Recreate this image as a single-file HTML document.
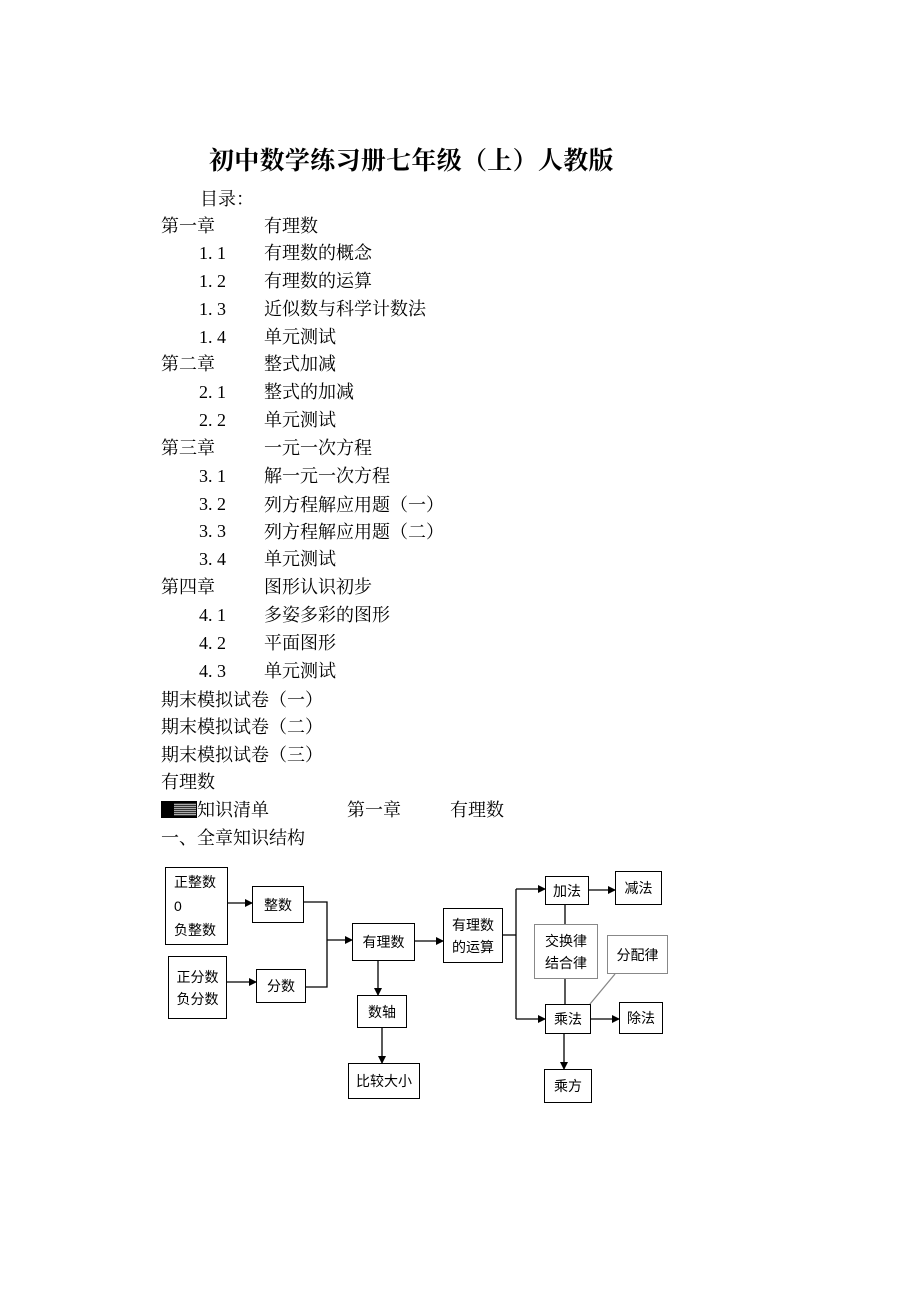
<!DOCTYPE html>
<html><head><meta charset="utf-8"><style>
body{margin:0;background:#fff;}
#p{position:relative;width:920px;height:1300px;overflow:hidden;font-family:"Liberation Serif","Noto Serif CJK SC",serif;color:#000;}
.t{position:absolute;font-size:18px;line-height:18px;white-space:nowrap;}
.c{font-family:"Noto Serif CJK SC",serif;}
.b{position:absolute;border:1.5px solid #000;box-sizing:border-box;font-family:"Liberation Sans","Noto Sans CJK SC",sans-serif;font-size:14px;display:flex;align-items:center;justify-content:center;text-align:center;line-height:22px;}
.g{border-color:#888;}
</style></head><body><div id="p">
<div class="t c" style="left:209px;top:145px;font-size:25px;line-height:28px;font-weight:bold;letter-spacing:0.3px;">初中数学练习册七年级（上）人教版</div>
<div class="t" style="left:200px;top:190px">目录：</div>
<div class="t" style="left:161px;top:217px">第一章</div><div class="t" style="left:264px;top:217px">有理数</div>
<div class="t" style="left:199px;top:244px">1. 1</div><div class="t" style="left:264px;top:244px">有理数的概念</div>
<div class="t" style="left:199px;top:272px">1. 2</div><div class="t" style="left:264px;top:272px">有理数的运算</div>
<div class="t" style="left:199px;top:300px">1. 3</div><div class="t" style="left:264px;top:300px">近似数与科学计数法</div>
<div class="t" style="left:199px;top:328px">1. 4</div><div class="t" style="left:264px;top:328px">单元测试</div>
<div class="t" style="left:161px;top:355px">第二章</div><div class="t" style="left:264px;top:355px">整式加减</div>
<div class="t" style="left:199px;top:383px">2. 1</div><div class="t" style="left:264px;top:383px">整式的加减</div>
<div class="t" style="left:199px;top:411px">2. 2</div><div class="t" style="left:264px;top:411px">单元测试</div>
<div class="t" style="left:161px;top:439px">第三章</div><div class="t" style="left:264px;top:439px">一元一次方程</div>
<div class="t" style="left:199px;top:467px">3. 1</div><div class="t" style="left:264px;top:467px">解一元一次方程</div>
<div class="t" style="left:199px;top:495px">3. 2</div><div class="t c" style="left:264px;top:495px">列方程解应用题（一）</div>
<div class="t" style="left:199px;top:522px">3. 3</div><div class="t c" style="left:264px;top:522px">列方程解应用题（二）</div>
<div class="t" style="left:199px;top:550px">3. 4</div><div class="t" style="left:264px;top:550px">单元测试</div>
<div class="t" style="left:161px;top:578px">第四章</div><div class="t" style="left:264px;top:578px">图形认识初步</div>
<div class="t" style="left:199px;top:606px">4. 1</div><div class="t" style="left:264px;top:606px">多姿多彩的图形</div>
<div class="t" style="left:199px;top:634px">4. 2</div><div class="t" style="left:264px;top:634px">平面图形</div>
<div class="t" style="left:199px;top:662px">4. 3</div><div class="t" style="left:264px;top:662px">单元测试</div>
<div class="t c" style="left:161px;top:690px">期末模拟试卷（一）</div>
<div class="t c" style="left:161px;top:717px">期末模拟试卷（二）</div>
<div class="t c" style="left:161px;top:745px">期末模拟试卷（三）</div>
<div class="t" style="left:161px;top:773px">有理数</div>
<div style="position:absolute;left:161px;top:801px;width:36px;height:17px;background:#000;"></div>
<div style="position:absolute;left:174px;top:803px;width:22px;height:13px;background:repeating-linear-gradient(#333 0 1px,#aaa 1px 2px);"></div>
<div class="t" style="left:197px;top:801px">知识清单</div>
<div class="t" style="left:347px;top:801px">第一章</div>
<div class="t" style="left:450px;top:801px">有理数</div>
<div class="t" style="left:161px;top:829px">一、全章知识结构</div>

<div class="b" style="left:165px;top:867px;width:63px;height:78px;justify-content:flex-start;padding-left:8px;text-align:left;line-height:24px;">正整数<br>0<br>负整数</div>
<div class="b" style="left:252px;top:886px;width:52px;height:37px;">整数</div>
<div class="b" style="left:168px;top:956px;width:59px;height:63px;">正分数<br>负分数</div>
<div class="b" style="left:256px;top:969px;width:50px;height:34px;">分数</div>
<div class="b" style="left:352px;top:923px;width:63px;height:38px;">有理数</div>
<div class="b" style="left:443px;top:908px;width:60px;height:55px;">有理数<br>的运算</div>
<div class="b" style="left:357px;top:995px;width:50px;height:33px;">数轴</div>
<div class="b" style="left:348px;top:1063px;width:72px;height:36px;">比较大小</div>
<div class="b" style="left:545px;top:876px;width:44px;height:29px;">加法</div>
<div class="b" style="left:615px;top:871px;width:47px;height:34px;">减法</div>
<div class="b g" style="left:534px;top:924px;width:64px;height:55px;">交换律<br>结合律</div>
<div class="b g" style="left:607px;top:935px;width:61px;height:39px;">分配律</div>
<div class="b" style="left:545px;top:1004px;width:46px;height:30px;">乘法</div>
<div class="b" style="left:619px;top:1002px;width:44px;height:32px;">除法</div>
<div class="b" style="left:544px;top:1069px;width:48px;height:34px;">乘方</div>

<svg width="920" height="1300" style="position:absolute;left:0;top:0" fill="none" stroke="#000" stroke-width="1.3">
<defs><marker id="a" markerWidth="8" markerHeight="8" refX="7" refY="4" orient="auto" markerUnits="userSpaceOnUse"><path d="M0,0 L8,4 L0,8z" fill="#000" stroke="none"/></marker></defs>
<path d="M228 903 H252" marker-end="url(#a)"/>
<path d="M227 982 H256" marker-end="url(#a)"/>
<path d="M304 902 H327 V987 H306"/>
<path d="M327 940 H352" marker-end="url(#a)"/>
<path d="M415 941 H443" marker-end="url(#a)"/>
<path d="M503 935 H516"/>
<path d="M516 889 V1019"/>
<path d="M516 889 H545" marker-end="url(#a)"/>
<path d="M516 1019 H545" marker-end="url(#a)"/>
<path d="M589 890 H615" marker-end="url(#a)"/>
<path d="M591 1019 H619" marker-end="url(#a)"/>
<path d="M565 905 V924 M565 979 V1004"/>
<path d="M590 1004 L615 974" stroke="#888"/>
<path d="M564 1034 V1069" marker-end="url(#a)"/>
<path d="M378 961 V995" marker-end="url(#a)"/>
<path d="M382 1028 V1063" marker-end="url(#a)"/>
</svg>
</div></body></html>
